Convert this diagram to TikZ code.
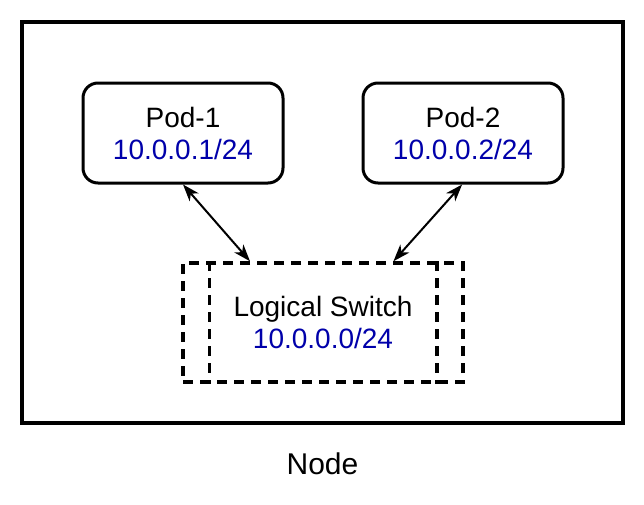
\documentclass[tikz,border=0pt]{standalone}
\usepackage{fontspec}
\setmainfont{Liberation Sans}
\usetikzlibrary{arrows.meta, positioning}
\definecolor{ipblue}{RGB}{0,0,170}

\begin{document}
\begin{tikzpicture}[x=1pt,y=-1pt,>={Stealth[length=17pt,width=12pt,inset=5pt]},
  frame/.style={draw, line width=4pt, minimum width=601pt, minimum height=401pt, inner sep=0pt},
  pod/.style={draw, line width=3pt, rounded corners=15pt, minimum width=200pt, minimum height=100pt,
    align=center, font=\fontsize{28}{32}\selectfont},
  switch/.style={draw, line width=3.5pt, dash pattern=on 10pt off 7pt, minimum width=280pt, minimum height=119pt,
    align=center, font=\fontsize{28}{32}\selectfont},
  link/.style={<->, line width=2pt}]
\useasboundingbox (0,0) rectangle (644,504);

% define the boxes
  \node[frame]  (host) at (322.5,222.5) {};
  \node[pod]    (pod1) at (183,133)
{Pod-1\\\textcolor{ipblue}{10.0.0.1/24}};
  \node[pod]    (pod2) at (463,133)
{Pod-2\\\textcolor{ipblue}{10.0.0.2/24}};
  \node[switch] (ls)   at (323,322.5)
{Logical Switch\\\textcolor{ipblue}{10.0.0.0/24}};
  \node[anchor=base, font=\fontsize{30}{36}\selectfont] (hostname) at ([yshift=-49pt]host.south) {Node};

% inner walls of the switch
  \draw[line width=3.5pt, dash pattern=on 10pt off 7pt]
        ([xshift=28pt]ls.north west) -- ([xshift=28pt]ls.south west)
        ([xshift=-28pt]ls.north east) -- ([xshift=-28pt]ls.south east);

% define the links
  \draw[link] (pod1.-90) -- (ls.140);
  \draw[link] (pod2.-91) -- (ls.41);
\end{tikzpicture}
\end{document}
